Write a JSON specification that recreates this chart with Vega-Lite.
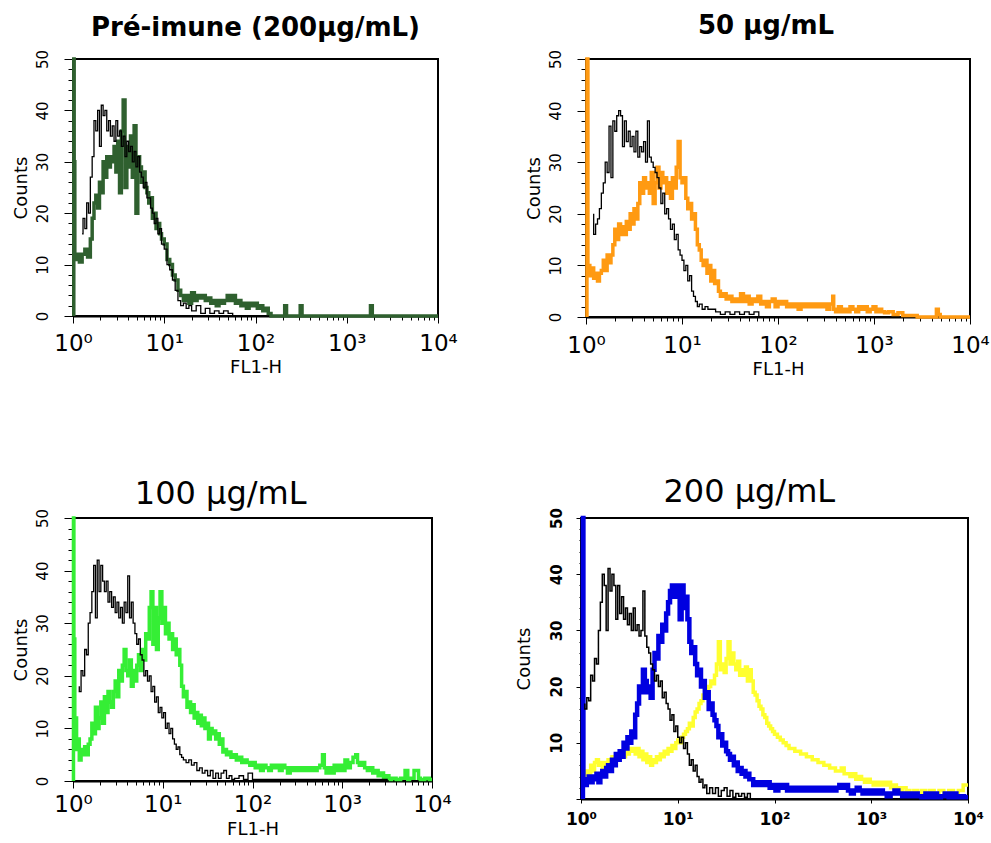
{
"$schema": "https://vega.github.io/schema/vega-lite/v6.json",
"background": "white",
"padding": {"left": 10, "top": 12, "right": 5, "bottom": 5},
"config": {
 "view": {"stroke": "black", "strokeWidth": 2},
 "axis": {"grid": false, "domainColor": "black", "domainWidth": 2, "tickColor": "black", "labelColor": "black", "titleColor": "black", "labelFont": "DejaVu Sans", "titleFont": "DejaVu Sans", "titleFontWeight": "normal"},
 "title": {"color": "black", "font": "DejaVu Sans", "anchor": "middle"}
},
"datasets": {
"p1c": [{"x":1.02,"y":0},{"x":1.03,"y":50},{"x":1.047,"y":30},{"x":1.096,"y":11},{"x":1.175,"y":12},{"x":1.259,"y":10.5},{"x":1.349,"y":12},{"x":1.445,"y":13},{"x":1.549,"y":11.5},{"x":1.622,"y":15},{"x":1.698,"y":19},{"x":1.778,"y":22},{"x":1.862,"y":23.5},{"x":1.95,"y":21},{"x":2.042,"y":26},{"x":2.138,"y":24},{"x":2.239,"y":30},{"x":2.344,"y":27},{"x":2.455,"y":31},{"x":2.57,"y":29},{"x":2.692,"y":31},{"x":2.818,"y":30},{"x":2.951,"y":33},{"x":3.09,"y":28},{"x":3.236,"y":34},{"x":3.388,"y":24},{"x":3.548,"y":36},{"x":3.715,"y":42},{"x":3.89,"y":25},{"x":4.074,"y":33},{"x":4.266,"y":29},{"x":4.467,"y":35},{"x":4.677,"y":27},{"x":4.898,"y":37},{"x":5.129,"y":20},{"x":5.37,"y":31},{"x":5.623,"y":29},{"x":5.888,"y":26},{"x":6.166,"y":28},{"x":6.457,"y":25},{"x":6.761,"y":24},{"x":7.079,"y":22},{"x":7.413,"y":23},{"x":7.762,"y":19},{"x":8.128,"y":20},{"x":8.511,"y":17},{"x":8.913,"y":18},{"x":9.333,"y":16},{"x":10,"y":15},{"x":10.72,"y":14},{"x":11.48,"y":11},{"x":12.3,"y":10},{"x":13.18,"y":8},{"x":14.13,"y":7},{"x":15.14,"y":5},{"x":16.22,"y":4},{"x":17.38,"y":3},{"x":18.62,"y":4},{"x":19.95,"y":2.5},{"x":21.38,"y":4.5},{"x":22.91,"y":3},{"x":24.55,"y":4},{"x":26.3,"y":3.5},{"x":28.18,"y":4},{"x":30.2,"y":3},{"x":32.36,"y":3.5},{"x":34.67,"y":2.5},{"x":37.15,"y":3},{"x":39.81,"y":2},{"x":42.66,"y":3},{"x":45.71,"y":2.5},{"x":48.98,"y":3},{"x":52.48,"y":4},{"x":56.23,"y":3},{"x":60.26,"y":4},{"x":64.57,"y":2.5},{"x":69.18,"y":3},{"x":74.13,"y":2},{"x":79.43,"y":2.5},{"x":85.11,"y":1.5},{"x":91.2,"y":2.5},{"x":97.72,"y":2},{"x":104.7,"y":2.5},{"x":112.2,"y":1.5},{"x":120.2,"y":2},{"x":128.8,"y":1},{"x":138,"y":1.5},{"x":147.9,"y":0.5},{"x":158.5,"y":0},{"x":208.9,"y":0},{"x":218.8,"y":2},{"x":229.1,"y":0},{"x":309,"y":0},{"x":323.6,"y":2},{"x":338.8,"y":0},{"x":1820,"y":0},{"x":1905,"y":2},{"x":1995,"y":0},{"x":10000,"y":0}],
"p1k": [{"x":1.259,"y":16},{"x":1.288,"y":16},{"x":1.349,"y":19},{"x":1.413,"y":17},{"x":1.479,"y":22},{"x":1.549,"y":20},{"x":1.622,"y":27},{"x":1.698,"y":31},{"x":1.778,"y":38},{"x":1.862,"y":36},{"x":1.95,"y":40},{"x":2.042,"y":33},{"x":2.138,"y":41},{"x":2.239,"y":39},{"x":2.344,"y":40},{"x":2.455,"y":36},{"x":2.57,"y":38},{"x":2.692,"y":35},{"x":2.818,"y":37},{"x":2.951,"y":34},{"x":3.09,"y":38},{"x":3.236,"y":35},{"x":3.388,"y":36},{"x":3.548,"y":33},{"x":3.715,"y":35},{"x":3.89,"y":31},{"x":4.074,"y":34},{"x":4.266,"y":32},{"x":4.467,"y":33},{"x":4.677,"y":30},{"x":4.898,"y":32},{"x":5.129,"y":29},{"x":5.37,"y":31},{"x":5.623,"y":28},{"x":5.888,"y":27},{"x":6.166,"y":25},{"x":6.457,"y":26},{"x":6.761,"y":23},{"x":7.079,"y":23},{"x":7.413,"y":21},{"x":7.762,"y":20},{"x":8.128,"y":18},{"x":8.511,"y":19},{"x":8.913,"y":16},{"x":9.333,"y":17},{"x":10,"y":14},{"x":10.72,"y":13},{"x":11.48,"y":10},{"x":12.3,"y":9},{"x":13.18,"y":7},{"x":14.13,"y":5},{"x":15.14,"y":3},{"x":16.22,"y":2},{"x":17.38,"y":2.5},{"x":18.62,"y":1.5},{"x":19.95,"y":2},{"x":22.39,"y":1},{"x":25.12,"y":2},{"x":28.18,"y":0.5},{"x":31.62,"y":1.5},{"x":35.48,"y":0.5},{"x":39.81,"y":1},{"x":44.67,"y":0.5},{"x":50.12,"y":1},{"x":56.23,"y":0.5},{"x":63.1,"y":0}],
"p2c": [{"x":1.023,"y":0},{"x":1.047,"y":50},{"x":1.096,"y":10},{"x":1.148,"y":8},{"x":1.202,"y":9.5},{"x":1.259,"y":7.5},{"x":1.318,"y":8.5},{"x":1.38,"y":7},{"x":1.445,"y":8.5},{"x":1.514,"y":9},{"x":1.585,"y":11},{"x":1.66,"y":9},{"x":1.738,"y":12},{"x":1.82,"y":10.5},{"x":1.905,"y":12},{"x":1.995,"y":14},{"x":2.089,"y":17},{"x":2.188,"y":15},{"x":2.291,"y":18},{"x":2.399,"y":16},{"x":2.512,"y":17.5},{"x":2.63,"y":16},{"x":2.754,"y":18.5},{"x":2.884,"y":17},{"x":3.02,"y":20},{"x":3.162,"y":18},{"x":3.311,"y":21},{"x":3.467,"y":19},{"x":3.631,"y":22},{"x":3.802,"y":26},{"x":3.981,"y":24},{"x":4.169,"y":27},{"x":4.365,"y":25},{"x":4.571,"y":26},{"x":4.786,"y":24},{"x":5.012,"y":28},{"x":5.248,"y":22},{"x":5.495,"y":26},{"x":5.754,"y":29},{"x":6.026,"y":25},{"x":6.31,"y":28},{"x":6.607,"y":26},{"x":6.918,"y":27},{"x":7.244,"y":24},{"x":7.586,"y":26},{"x":7.943,"y":23},{"x":8.318,"y":27},{"x":8.71,"y":25},{"x":9.12,"y":29},{"x":9.55,"y":34},{"x":10,"y":27},{"x":10.47,"y":26},{"x":10.96,"y":27},{"x":11.48,"y":23},{"x":12.02,"y":21},{"x":12.59,"y":22},{"x":13.18,"y":19},{"x":13.8,"y":20},{"x":14.45,"y":17},{"x":15.14,"y":14},{"x":15.85,"y":13},{"x":16.6,"y":11},{"x":17.38,"y":10},{"x":18.2,"y":11},{"x":19.05,"y":8.5},{"x":19.95,"y":10},{"x":20.89,"y":7},{"x":21.88,"y":9},{"x":22.91,"y":6.5},{"x":23.99,"y":7},{"x":25.12,"y":5},{"x":26.92,"y":4},{"x":28.84,"y":4.5},{"x":30.9,"y":3.5},{"x":33.11,"y":4},{"x":35.48,"y":3},{"x":38.02,"y":3.5},{"x":40.74,"y":3},{"x":43.65,"y":4.5},{"x":46.77,"y":3},{"x":50.12,"y":4},{"x":53.7,"y":2.5},{"x":57.54,"y":3.5},{"x":61.66,"y":3},{"x":66.07,"y":4},{"x":70.79,"y":2.5},{"x":75.86,"y":3},{"x":81.28,"y":2},{"x":87.1,"y":3},{"x":93.33,"y":3.5},{"x":100,"y":2},{"x":107.2,"y":3},{"x":114.8,"y":2.5},{"x":123,"y":3},{"x":131.8,"y":2},{"x":141.3,"y":2.5},{"x":151.4,"y":2},{"x":162.2,"y":2.5},{"x":173.8,"y":1.5},{"x":186.2,"y":2.5},{"x":199.5,"y":2},{"x":213.8,"y":2.5},{"x":229.1,"y":2},{"x":245.5,"y":2.5},{"x":263,"y":2},{"x":281.8,"y":2.5},{"x":302,"y":2},{"x":323.6,"y":2.5},{"x":346.7,"y":1.5},{"x":371.5,"y":2.5},{"x":380.2,"y":4},{"x":398.1,"y":1.5},{"x":426.6,"y":1},{"x":457.1,"y":2},{"x":489.8,"y":1},{"x":524.8,"y":1.5},{"x":562.3,"y":1},{"x":602.6,"y":2},{"x":645.7,"y":1.5},{"x":691.8,"y":1},{"x":741.3,"y":2},{"x":794.3,"y":1.5},{"x":851.1,"y":2},{"x":912,"y":1},{"x":977.2,"y":1.5},{"x":1047,"y":2},{"x":1122,"y":1},{"x":1202,"y":1.5},{"x":1288,"y":1},{"x":1413,"y":0.8},{"x":1585,"y":1},{"x":1778,"y":0.5},{"x":1995,"y":0.8},{"x":2239,"y":0.3},{"x":2512,"y":0.3},{"x":2818,"y":0.3},{"x":3162,"y":0},{"x":4467,"y":0},{"x":4677,"y":1.5},{"x":4898,"y":0.5},{"x":5248,"y":0},{"x":10000,"y":0}],
"p2k": [{"x":1.202,"y":20},{"x":1.259,"y":16},{"x":1.318,"y":18},{"x":1.38,"y":19},{"x":1.445,"y":21},{"x":1.514,"y":24},{"x":1.585,"y":26},{"x":1.66,"y":30},{"x":1.738,"y":28},{"x":1.82,"y":37},{"x":1.905,"y":27},{"x":1.995,"y":38},{"x":2.089,"y":36},{"x":2.188,"y":39},{"x":2.291,"y":40},{"x":2.399,"y":39},{"x":2.512,"y":33},{"x":2.63,"y":38},{"x":2.754,"y":34},{"x":2.884,"y":36},{"x":3.02,"y":33},{"x":3.162,"y":35},{"x":3.311,"y":32},{"x":3.467,"y":36},{"x":3.631,"y":31},{"x":3.802,"y":33},{"x":3.981,"y":32},{"x":4.169,"y":34},{"x":4.365,"y":30},{"x":4.571,"y":38},{"x":4.786,"y":31},{"x":5.012,"y":30},{"x":5.248,"y":29},{"x":5.495,"y":28},{"x":5.754,"y":27},{"x":6.026,"y":25},{"x":6.31,"y":22},{"x":6.607,"y":24},{"x":6.918,"y":20},{"x":7.244,"y":21},{"x":7.586,"y":19},{"x":7.943,"y":17},{"x":8.318,"y":18},{"x":8.71,"y":15},{"x":9.12,"y":16},{"x":9.55,"y":13},{"x":10,"y":12},{"x":10.47,"y":11},{"x":10.96,"y":9},{"x":11.48,"y":10},{"x":12.02,"y":7},{"x":12.59,"y":8},{"x":13.18,"y":5},{"x":13.8,"y":4},{"x":14.45,"y":3},{"x":15.14,"y":2},{"x":16.22,"y":2.5},{"x":17.38,"y":1.5},{"x":18.62,"y":2},{"x":19.95,"y":1.5},{"x":22.39,"y":1.5},{"x":25.12,"y":1},{"x":28.18,"y":0.5},{"x":31.62,"y":1},{"x":35.48,"y":0.5},{"x":39.81,"y":1},{"x":44.67,"y":0.5},{"x":50.12,"y":1},{"x":56.23,"y":0.5},{"x":63.1,"y":1},{"x":70.79,"y":0}],
"p3c": [{"x":1.012,"y":0},{"x":1.023,"y":50},{"x":1.047,"y":27},{"x":1.072,"y":10},{"x":1.096,"y":12},{"x":1.122,"y":6},{"x":1.175,"y":8},{"x":1.23,"y":4},{"x":1.288,"y":6},{"x":1.349,"y":5},{"x":1.413,"y":6.5},{"x":1.479,"y":5},{"x":1.549,"y":7},{"x":1.622,"y":8},{"x":1.698,"y":11},{"x":1.778,"y":9},{"x":1.862,"y":14},{"x":1.95,"y":10},{"x":2.042,"y":12},{"x":2.138,"y":15},{"x":2.239,"y":11},{"x":2.344,"y":16},{"x":2.455,"y":13},{"x":2.57,"y":17},{"x":2.692,"y":15},{"x":2.818,"y":14},{"x":2.951,"y":17},{"x":3.09,"y":19},{"x":3.236,"y":16},{"x":3.388,"y":21},{"x":3.548,"y":19},{"x":3.715,"y":22},{"x":3.89,"y":25},{"x":4.074,"y":21},{"x":4.266,"y":20},{"x":4.467,"y":23},{"x":4.677,"y":18},{"x":4.898,"y":21},{"x":5.129,"y":19},{"x":5.37,"y":22},{"x":5.623,"y":24},{"x":5.888,"y":21},{"x":6.166,"y":25},{"x":6.457,"y":23},{"x":6.761,"y":28},{"x":7.079,"y":27},{"x":7.413,"y":33},{"x":7.762,"y":36},{"x":8.128,"y":26},{"x":8.511,"y":33},{"x":8.913,"y":25},{"x":9.333,"y":31},{"x":9.772,"y":36},{"x":10.23,"y":30},{"x":10.72,"y":33},{"x":11.22,"y":28},{"x":11.75,"y":30},{"x":12.3,"y":27},{"x":12.88,"y":28},{"x":13.49,"y":25},{"x":14.13,"y":27},{"x":14.79,"y":24},{"x":15.49,"y":25},{"x":16.22,"y":22},{"x":16.98,"y":18},{"x":17.78,"y":16},{"x":18.62,"y":17},{"x":19.5,"y":14},{"x":20.42,"y":15},{"x":21.38,"y":13},{"x":22.39,"y":14.5},{"x":23.44,"y":12},{"x":24.55,"y":13},{"x":25.7,"y":11},{"x":26.92,"y":12.5},{"x":28.18,"y":10.5},{"x":29.51,"y":12},{"x":30.9,"y":10},{"x":32.36,"y":11},{"x":33.88,"y":8},{"x":35.48,"y":10},{"x":37.15,"y":9},{"x":38.9,"y":9.5},{"x":40.74,"y":8},{"x":42.66,"y":9},{"x":44.67,"y":7},{"x":46.77,"y":8},{"x":48.98,"y":5.5},{"x":51.29,"y":6},{"x":53.7,"y":5},{"x":57.54,"y":5.5},{"x":61.66,"y":4.5},{"x":66.07,"y":5},{"x":70.79,"y":4},{"x":75.86,"y":4.5},{"x":81.28,"y":3.5},{"x":87.1,"y":4},{"x":93.33,"y":3.5},{"x":100,"y":3},{"x":107.2,"y":3.5},{"x":114.8,"y":2.5},{"x":123,"y":3},{"x":131.8,"y":2},{"x":141.3,"y":3},{"x":151.4,"y":2.5},{"x":162.2,"y":2},{"x":173.8,"y":3},{"x":186.2,"y":2.5},{"x":199.5,"y":3},{"x":213.8,"y":2},{"x":229.1,"y":3},{"x":245.5,"y":2.5},{"x":263,"y":1.5},{"x":281.8,"y":2.5},{"x":302,"y":2},{"x":323.6,"y":2.5},{"x":346.7,"y":2},{"x":371.5,"y":2.5},{"x":398.1,"y":2},{"x":426.6,"y":2.5},{"x":457.1,"y":2},{"x":489.8,"y":2.5},{"x":524.8,"y":2},{"x":562.3,"y":2.5},{"x":602.6,"y":3},{"x":631,"y":5},{"x":660.7,"y":2.5},{"x":707.9,"y":1.5},{"x":758.6,"y":2.5},{"x":812.8,"y":1.5},{"x":871,"y":3},{"x":933.3,"y":2},{"x":1000,"y":3},{"x":1072,"y":2},{"x":1148,"y":4},{"x":1230,"y":2.5},{"x":1318,"y":3.5},{"x":1413,"y":4.5},{"x":1479,"y":5},{"x":1549,"y":3.5},{"x":1660,"y":3},{"x":1778,"y":3.5},{"x":1905,"y":2.5},{"x":2042,"y":2},{"x":2188,"y":2.5},{"x":2344,"y":1.5},{"x":2512,"y":2},{"x":2692,"y":1},{"x":2884,"y":1.5},{"x":3090,"y":0.5},{"x":3311,"y":1},{"x":3548,"y":0.3},{"x":3981,"y":0.5},{"x":4467,"y":0.3},{"x":5012,"y":0.5},{"x":5370,"y":2},{"x":5623,"y":0.3},{"x":6310,"y":0.5},{"x":7079,"y":2},{"x":7413,"y":0.5},{"x":8318,"y":0.3},{"x":9333,"y":0.5},{"x":10000,"y":0.3}],
"p3k": [{"x":1.175,"y":18},{"x":1.23,"y":17},{"x":1.288,"y":21},{"x":1.349,"y":20},{"x":1.413,"y":25},{"x":1.479,"y":24},{"x":1.549,"y":30},{"x":1.622,"y":32},{"x":1.698,"y":36},{"x":1.778,"y":41},{"x":1.862,"y":31},{"x":1.95,"y":42},{"x":2.042,"y":36},{"x":2.138,"y":41},{"x":2.239,"y":38},{"x":2.344,"y":36},{"x":2.455,"y":38},{"x":2.57,"y":34},{"x":2.692,"y":36},{"x":2.818,"y":33},{"x":2.951,"y":35},{"x":3.09,"y":32},{"x":3.236,"y":34},{"x":3.388,"y":31},{"x":3.548,"y":33},{"x":3.715,"y":30},{"x":3.89,"y":34},{"x":4.074,"y":32},{"x":4.266,"y":39},{"x":4.467,"y":31},{"x":4.677,"y":34},{"x":4.898,"y":30},{"x":5.129,"y":28},{"x":5.37,"y":26},{"x":5.623,"y":27},{"x":5.888,"y":24},{"x":6.166,"y":23},{"x":6.457,"y":20},{"x":6.761,"y":21},{"x":7.079,"y":19},{"x":7.413,"y":20},{"x":7.762,"y":17},{"x":8.128,"y":18},{"x":8.511,"y":15},{"x":8.913,"y":16},{"x":9.333,"y":13},{"x":9.772,"y":14},{"x":10.23,"y":12},{"x":10.72,"y":13},{"x":11.22,"y":10},{"x":11.75,"y":11},{"x":12.3,"y":9},{"x":12.88,"y":10},{"x":13.49,"y":8},{"x":14.13,"y":7},{"x":14.79,"y":6},{"x":15.49,"y":6.5},{"x":16.22,"y":5},{"x":16.98,"y":4.5},{"x":18.2,"y":4},{"x":19.5,"y":3.5},{"x":20.89,"y":4},{"x":22.39,"y":3},{"x":23.99,"y":3.5},{"x":25.7,"y":2},{"x":27.54,"y":2.5},{"x":29.51,"y":1.5},{"x":31.62,"y":2},{"x":33.88,"y":1},{"x":36.31,"y":2},{"x":38.9,"y":0.5},{"x":41.69,"y":1.5},{"x":44.67,"y":0.5},{"x":47.86,"y":1.5},{"x":51.29,"y":2},{"x":54.95,"y":0.5},{"x":58.88,"y":1},{"x":63.1,"y":0.3},{"x":70.79,"y":0.5},{"x":79.43,"y":1},{"x":89.13,"y":0.3},{"x":100,"y":1.5},{"x":104.7,"y":0.3},{"x":3162,"y":0.3},{"x":3311,"y":0}],
"p4b": [{"x":1.047,"y":0},{"x":1.059,"y":50},{"x":1.096,"y":3},{"x":1.148,"y":2.5},{"x":1.202,"y":3.5},{"x":1.259,"y":4},{"x":1.318,"y":3},{"x":1.38,"y":4},{"x":1.445,"y":3.5},{"x":1.514,"y":4.5},{"x":1.585,"y":3},{"x":1.66,"y":4.5},{"x":1.738,"y":5},{"x":1.82,"y":4},{"x":1.905,"y":5.5},{"x":1.995,"y":6},{"x":2.089,"y":5},{"x":2.188,"y":7},{"x":2.291,"y":6},{"x":2.399,"y":8},{"x":2.512,"y":7},{"x":2.63,"y":8.5},{"x":2.754,"y":7.5},{"x":2.884,"y":10},{"x":3.02,"y":9},{"x":3.162,"y":11},{"x":3.311,"y":10},{"x":3.467,"y":12},{"x":3.631,"y":11},{"x":3.802,"y":15},{"x":3.981,"y":17},{"x":4.169,"y":20},{"x":4.365,"y":19},{"x":4.571,"y":23},{"x":4.786,"y":21},{"x":5.012,"y":19},{"x":5.248,"y":20},{"x":5.495,"y":18},{"x":5.754,"y":23},{"x":6.026,"y":26},{"x":6.31,"y":25},{"x":6.607,"y":29},{"x":6.918,"y":28},{"x":7.244,"y":31},{"x":7.586,"y":30},{"x":7.943,"y":33},{"x":8.318,"y":35},{"x":8.71,"y":37},{"x":9.12,"y":38},{"x":9.55,"y":36},{"x":10,"y":38},{"x":10.47,"y":37},{"x":10.96,"y":32},{"x":11.48,"y":38},{"x":12.02,"y":34},{"x":12.59,"y":36},{"x":13.18,"y":32},{"x":13.8,"y":28},{"x":14.45,"y":26},{"x":15.14,"y":27},{"x":15.85,"y":24},{"x":16.6,"y":22},{"x":17.38,"y":23},{"x":18.2,"y":20},{"x":19.05,"y":21},{"x":19.95,"y":18},{"x":20.89,"y":19},{"x":21.88,"y":16},{"x":22.91,"y":17},{"x":23.99,"y":15},{"x":25.12,"y":14},{"x":26.3,"y":13},{"x":27.54,"y":11},{"x":28.84,"y":11.5},{"x":30.2,"y":9.5},{"x":31.62,"y":10},{"x":33.11,"y":8.5},{"x":34.67,"y":8},{"x":36.31,"y":7},{"x":38.02,"y":7.5},{"x":39.81,"y":6},{"x":41.69,"y":6.5},{"x":43.65,"y":5},{"x":45.71,"y":5.5},{"x":47.86,"y":4.5},{"x":50.12,"y":5},{"x":52.48,"y":4},{"x":54.95,"y":4.5},{"x":57.54,"y":3.5},{"x":60.26,"y":3.5},{"x":63.1,"y":2.5},{"x":67.61,"y":3},{"x":72.44,"y":2.5},{"x":77.62,"y":3},{"x":83.18,"y":2.5},{"x":89.13,"y":3},{"x":95.5,"y":2},{"x":102.3,"y":2.5},{"x":109.6,"y":1.5},{"x":117.5,"y":2.5},{"x":125.9,"y":2},{"x":134.9,"y":2.5},{"x":144.5,"y":1.5},{"x":154.9,"y":2},{"x":166,"y":1.5},{"x":177.8,"y":2},{"x":190.5,"y":1.5},{"x":204.2,"y":2},{"x":218.8,"y":1.5},{"x":234.4,"y":2},{"x":251.2,"y":1.5},{"x":269.2,"y":2},{"x":288.4,"y":1.5},{"x":309,"y":2},{"x":331.1,"y":1.5},{"x":354.8,"y":2},{"x":380.2,"y":1.5},{"x":407.4,"y":2},{"x":436.5,"y":1.5},{"x":467.7,"y":2},{"x":501.2,"y":2.5},{"x":537,"y":2},{"x":575.4,"y":2.5},{"x":616.6,"y":1.5},{"x":660.7,"y":1},{"x":707.9,"y":1.5},{"x":758.6,"y":2},{"x":812.8,"y":1.5},{"x":871,"y":1},{"x":933.3,"y":1.5},{"x":1000,"y":1},{"x":1096,"y":1.5},{"x":1202,"y":1},{"x":1318,"y":1.5},{"x":1445,"y":1},{"x":1585,"y":0.5},{"x":1738,"y":1},{"x":1905,"y":1.5},{"x":2089,"y":1},{"x":2291,"y":0.5},{"x":2512,"y":1},{"x":2754,"y":0.5},{"x":3020,"y":1},{"x":3311,"y":0.5},{"x":3631,"y":0.3},{"x":3981,"y":1},{"x":4365,"y":0.3},{"x":4786,"y":1},{"x":5248,"y":0.3},{"x":5754,"y":0.5},{"x":6310,"y":1},{"x":6918,"y":0.3},{"x":7586,"y":1},{"x":8318,"y":0.3},{"x":9120,"y":0.5},{"x":10000,"y":0.3}],
"p4y": [{"x":1.096,"y":5},{"x":1.148,"y":4},{"x":1.202,"y":5},{"x":1.259,"y":4.5},{"x":1.318,"y":6},{"x":1.38,"y":5},{"x":1.445,"y":6.5},{"x":1.514,"y":7},{"x":1.585,"y":6},{"x":1.66,"y":6.5},{"x":1.738,"y":5.5},{"x":1.82,"y":6.5},{"x":1.905,"y":6},{"x":1.995,"y":7},{"x":2.089,"y":6.5},{"x":2.188,"y":7.5},{"x":2.291,"y":7},{"x":2.399,"y":8},{"x":2.512,"y":7.5},{"x":2.63,"y":8},{"x":2.754,"y":8.5},{"x":2.884,"y":7.5},{"x":3.02,"y":9},{"x":3.162,"y":8},{"x":3.311,"y":9},{"x":3.467,"y":8.5},{"x":3.631,"y":9},{"x":3.802,"y":8},{"x":3.981,"y":9},{"x":4.169,"y":7.5},{"x":4.365,"y":8.5},{"x":4.571,"y":7},{"x":4.786,"y":8},{"x":5.012,"y":6.5},{"x":5.248,"y":7.5},{"x":5.495,"y":6},{"x":5.754,"y":7},{"x":6.026,"y":6.5},{"x":6.31,"y":7.5},{"x":6.607,"y":7},{"x":6.918,"y":8},{"x":7.244,"y":7.5},{"x":7.586,"y":8.5},{"x":7.943,"y":8},{"x":8.318,"y":9},{"x":8.71,"y":8.5},{"x":9.12,"y":9.5},{"x":9.55,"y":9},{"x":10,"y":10},{"x":10.47,"y":10.5},{"x":10.96,"y":10},{"x":11.48,"y":11},{"x":12.02,"y":11.5},{"x":12.59,"y":12},{"x":13.18,"y":12.5},{"x":13.8,"y":13.5},{"x":14.45,"y":13},{"x":15.14,"y":14.5},{"x":15.85,"y":15.5},{"x":16.6,"y":16},{"x":17.38,"y":17},{"x":18.2,"y":17.5},{"x":19.05,"y":18.5},{"x":19.95,"y":18},{"x":20.89,"y":19.5},{"x":21.88,"y":20},{"x":22.91,"y":21},{"x":23.99,"y":20.5},{"x":25.12,"y":22},{"x":26.3,"y":24},{"x":27.54,"y":28},{"x":28.84,"y":23},{"x":30.2,"y":24},{"x":31.62,"y":22.5},{"x":33.11,"y":25},{"x":34.67,"y":28},{"x":36.31,"y":24},{"x":38.02,"y":26},{"x":39.81,"y":24},{"x":41.69,"y":23},{"x":43.65,"y":24.5},{"x":45.71,"y":22},{"x":47.86,"y":23},{"x":50.12,"y":22},{"x":52.48,"y":23.5},{"x":54.95,"y":21},{"x":57.54,"y":23},{"x":60.26,"y":21},{"x":63.1,"y":19},{"x":66.07,"y":18.5},{"x":69.18,"y":17.5},{"x":72.44,"y":16.5},{"x":75.86,"y":16},{"x":79.43,"y":15},{"x":83.18,"y":14.5},{"x":87.1,"y":13.5},{"x":91.2,"y":13},{"x":95.5,"y":12.5},{"x":100,"y":12},{"x":107.2,"y":11.5},{"x":114.8,"y":11},{"x":123,"y":10.5},{"x":131.8,"y":10},{"x":141.3,"y":9.5},{"x":151.4,"y":9},{"x":162.2,"y":9},{"x":173.8,"y":8.5},{"x":186.2,"y":8.5},{"x":199.5,"y":8},{"x":213.8,"y":8},{"x":229.1,"y":7.5},{"x":245.5,"y":7.5},{"x":263,"y":7},{"x":281.8,"y":7},{"x":302,"y":6.5},{"x":323.6,"y":6.5},{"x":346.7,"y":6},{"x":371.5,"y":6},{"x":398.1,"y":5.5},{"x":426.6,"y":5.5},{"x":457.1,"y":5},{"x":489.8,"y":5},{"x":524.8,"y":5.5},{"x":562.3,"y":4.5},{"x":602.6,"y":4.5},{"x":645.7,"y":4},{"x":691.8,"y":4.5},{"x":741.3,"y":3.5},{"x":794.3,"y":4},{"x":851.1,"y":3.5},{"x":912,"y":3},{"x":977.2,"y":3.5},{"x":1047,"y":3},{"x":1122,"y":2.5},{"x":1202,"y":3},{"x":1288,"y":2.5},{"x":1380,"y":3},{"x":1479,"y":2.5},{"x":1585,"y":3},{"x":1698,"y":2},{"x":1820,"y":2.5},{"x":1950,"y":2},{"x":2089,"y":1.5},{"x":2291,"y":2},{"x":2512,"y":1.5},{"x":2754,"y":1},{"x":3020,"y":1.5},{"x":3311,"y":1},{"x":3631,"y":1.5},{"x":3981,"y":1},{"x":4467,"y":1.5},{"x":5012,"y":1},{"x":5623,"y":1.5},{"x":6310,"y":1},{"x":7079,"y":1.5},{"x":7943,"y":1},{"x":8913,"y":1.5},{"x":10000,"y":2.5}],
"p4k": [{"x":1.096,"y":17},{"x":1.148,"y":16},{"x":1.202,"y":18},{"x":1.259,"y":17.5},{"x":1.318,"y":22},{"x":1.38,"y":21},{"x":1.445,"y":25},{"x":1.514,"y":24},{"x":1.585,"y":30},{"x":1.66,"y":35},{"x":1.738,"y":40},{"x":1.82,"y":38},{"x":1.905,"y":30},{"x":1.995,"y":41},{"x":2.089,"y":37},{"x":2.188,"y":40},{"x":2.291,"y":38},{"x":2.399,"y":32},{"x":2.512,"y":38},{"x":2.63,"y":33},{"x":2.754,"y":36},{"x":2.884,"y":32},{"x":3.02,"y":34},{"x":3.162,"y":31},{"x":3.311,"y":33},{"x":3.467,"y":30},{"x":3.631,"y":34},{"x":3.802,"y":30},{"x":3.981,"y":31},{"x":4.169,"y":29},{"x":4.365,"y":30},{"x":4.571,"y":37},{"x":4.786,"y":29},{"x":5.012,"y":27},{"x":5.248,"y":26},{"x":5.495,"y":24},{"x":5.754,"y":23},{"x":6.026,"y":21},{"x":6.31,"y":22},{"x":6.607,"y":20},{"x":6.918,"y":21},{"x":7.244,"y":18},{"x":7.586,"y":19},{"x":7.943,"y":17},{"x":8.318,"y":16},{"x":8.71,"y":14},{"x":9.12,"y":15},{"x":9.55,"y":12},{"x":10,"y":13},{"x":10.47,"y":11},{"x":10.96,"y":10},{"x":11.48,"y":11},{"x":12.02,"y":9},{"x":12.59,"y":10},{"x":13.18,"y":8},{"x":13.8,"y":6},{"x":14.45,"y":7},{"x":15.14,"y":5},{"x":15.85,"y":6},{"x":16.6,"y":4},{"x":17.38,"y":3},{"x":18.2,"y":3.5},{"x":19.05,"y":2},{"x":19.95,"y":2.5},{"x":21.38,"y":1},{"x":22.91,"y":2},{"x":24.55,"y":1},{"x":26.3,"y":2},{"x":28.18,"y":0.5},{"x":30.2,"y":1.5},{"x":32.36,"y":2},{"x":34.67,"y":0.5},{"x":37.15,"y":1.5},{"x":39.81,"y":0.3},{"x":42.66,"y":1},{"x":45.71,"y":0.5},{"x":48.98,"y":1},{"x":52.48,"y":0.3},{"x":56.23,"y":1},{"x":60.26,"y":0}]
},
"spacing": 95,
"vconcat": [
 {"spacing": 64, "hconcat": [
  {"width": 365, "height": 257,
   "title": {"text": "Pré-imune (200µg/mL)", "fontSize": 26, "fontWeight": "bold", "offset": 8},
   "encoding": {
    "x": {"field": "x", "type": "quantitative", "scale": {"type": "log", "domain": [1, 10000]},
     "axis": {"title": "FL1-H", "values": [1,2,3,4,5,6,7,8,9,10,20,30,40,50,60,70,80,90,100,200,300,400,500,600,700,800,900,1000,2000,3000,4000,5000,6000,7000,8000,9000,10000],
      "labelExpr": "datum.value==1?'10⁰':datum.value==10?'10¹':datum.value==100?'10²':datum.value==1000?'10³':datum.value==10000?'10⁴':''",
      "tickSize": {"condition": {"test": "indexof([1,10,100,1000,10000], datum.value) >= 0", "value": 7}, "value": 4},
      "labelFlush": false, "labelOverlap": false, "labelFontSize": 23, "labelPadding": 9, "titleFontSize": 18, "titlePadding": 3}},
    "y": {"field": "y", "type": "quantitative", "scale": {"domain": [0, 50]},
     "axis": {"title": "Counts", "values": [0,2,4,6,8,10,12,14,16,18,20,22,24,26,28,30,32,34,36,38,40,42,44,46,48,50],
      "labelExpr": "datum.value % 10 == 0 ? datum.label : ''",
      "tickSize": {"condition": {"test": "datum.value % 10 == 0", "value": 9}, "value": 5},
      "labelAngle": 270, "labelAlign": "center", "labelBaseline": "bottom", "labelOverlap": false, "labelFlush": false,
      "labelFontSize": 15, "labelPadding": 14, "titleFontSize": 18, "titlePadding": 5}}
   },
   "layer": [
    {"data": {"name": "p1c"}, "mark": {"type": "line", "interpolate": "step-before", "color": "#2f602f", "strokeWidth": 3.5}},
    {"data": {"name": "p1k"}, "mark": {"type": "line", "interpolate": "step-before", "color": "black", "strokeWidth": 1.3}}
   ]},
  {"width": 384, "height": 258,
   "title": {"text": "50 µg/mL", "fontSize": 26, "fontWeight": "bold", "offset": 10, "dx": -12},
   "encoding": {
    "x": {"field": "x", "type": "quantitative", "scale": {"type": "log", "domain": [1, 10000]},
     "axis": {"title": "FL1-H", "values": [1,2,3,4,5,6,7,8,9,10,20,30,40,50,60,70,80,90,100,200,300,400,500,600,700,800,900,1000,2000,3000,4000,5000,6000,7000,8000,9000,10000],
      "labelExpr": "datum.value==1?'10⁰':datum.value==10?'10¹':datum.value==100?'10²':datum.value==1000?'10³':datum.value==10000?'10⁴':''",
      "tickSize": {"condition": {"test": "indexof([1,10,100,1000,10000], datum.value) >= 0", "value": 7}, "value": 4},
      "labelFlush": false, "labelOverlap": false, "labelFontSize": 23, "labelPadding": 10, "titleFontSize": 18, "titlePadding": 3}},
    "y": {"field": "y", "type": "quantitative", "scale": {"domain": [0, 50]},
     "axis": {"title": "Counts", "values": [0,2,4,6,8,10,12,14,16,18,20,22,24,26,28,30,32,34,36,38,40,42,44,46,48,50],
      "labelExpr": "datum.value % 10 == 0 ? datum.label : ''",
      "tickSize": {"condition": {"test": "datum.value % 10 == 0", "value": 9}, "value": 5},
      "labelAngle": 270, "labelAlign": "center", "labelBaseline": "bottom", "labelOverlap": false, "labelFlush": false,
      "labelFontSize": 15, "labelPadding": 14, "titleFontSize": 18, "titlePadding": 5}}
   },
   "layer": [
    {"data": {"name": "p2c"}, "mark": {"type": "line", "interpolate": "step-before", "color": "#ff9a12", "strokeWidth": 3.5}},
    {"data": {"name": "p2k"}, "mark": {"type": "line", "interpolate": "step-before", "color": "black", "strokeWidth": 1.3}}
   ]}
 ]},
 {"spacing": 61, "hconcat": [
  {"width": 359, "height": 263,
   "title": {"text": "100 µg/mL", "fontSize": 32, "fontWeight": "normal", "frame": "bounds", "offset": -3, "dx": -11},
   "encoding": {
    "x": {"field": "x", "type": "quantitative", "scale": {"type": "log", "domain": [1, 10000]},
     "axis": {"title": "FL1-H", "values": [1,2,3,4,5,6,7,8,9,10,20,30,40,50,60,70,80,90,100,200,300,400,500,600,700,800,900,1000,2000,3000,4000,5000,6000,7000,8000,9000,10000],
      "labelExpr": "datum.value==1?'10⁰':datum.value==10?'10¹':datum.value==100?'10²':datum.value==1000?'10³':datum.value==10000?'10⁴':''",
      "tickSize": {"condition": {"test": "indexof([1,10,100,1000,10000], datum.value) >= 0", "value": 7}, "value": 4},
      "labelFlush": false, "labelOverlap": false, "labelFontSize": 23, "labelPadding": 5, "titleFontSize": 18, "titlePadding": 4}},
    "y": {"field": "y", "type": "quantitative", "scale": {"domain": [0, 50]},
     "axis": {"title": "Counts", "values": [0,2,4,6,8,10,12,14,16,18,20,22,24,26,28,30,32,34,36,38,40,42,44,46,48,50],
      "labelExpr": "datum.value % 10 == 0 ? datum.label : ''",
      "tickSize": {"condition": {"test": "datum.value % 10 == 0", "value": 9}, "value": 5},
      "labelAngle": 270, "labelAlign": "center", "labelBaseline": "bottom", "labelOverlap": false, "labelFlush": false,
      "labelFontSize": 15, "labelPadding": 14, "titleFontSize": 18, "titlePadding": 5}}
   },
   "layer": [
    {"data": {"name": "p3c"}, "mark": {"type": "line", "interpolate": "step-before", "color": "#35ee35", "strokeWidth": 3.5}},
    {"data": {"name": "p3k"}, "mark": {"type": "line", "interpolate": "step-before", "color": "black", "strokeWidth": 1.3}}
   ]},
  {"width": 387, "height": 281,
   "title": {"text": "200 µg/mL", "fontSize": 32, "fontWeight": "normal", "frame": "bounds", "offset": -1},
   "encoding": {
    "x": {"field": "x", "type": "quantitative", "scale": {"type": "log", "domain": [1, 10000]},
     "axis": {"title": null, "values": [1,2,3,4,5,6,7,8,9,10,20,30,40,50,60,70,80,90,100,200,300,400,500,600,700,800,900,1000,2000,3000,4000,5000,6000,7000,8000,9000,10000],
      "labelExpr": "datum.value==1?'10⁰':datum.value==10?'10¹':datum.value==100?'10²':datum.value==1000?'10³':datum.value==10000?'10⁴':''",
      "tickSize": {"condition": {"test": "indexof([1,10,100,1000,10000], datum.value) >= 0", "value": 4}, "value": 0},
      "labelFlush": false, "labelOverlap": false, "labelFontSize": 17, "labelFontWeight": "bold", "labelPadding": 8}},
    "y": {"field": "y", "type": "quantitative", "scale": {"domain": [0, 50]},
     "axis": {"title": "Counts", "values": [0,2,4,6,8,10,12,14,16,18,20,22,24,26,28,30,32,34,36,38,40,42,44,46,48,50],
      "labelExpr": "datum.value % 10 == 0 && datum.value > 0 ? datum.label : ''",
      "tickSize": {"condition": {"test": "datum.value % 10 == 0", "value": 5}, "value": 2},
      "labelAngle": 270, "labelAlign": "center", "labelBaseline": "bottom", "labelOverlap": false, "labelFlush": false,
      "labelFontSize": 15, "labelFontWeight": "bold", "labelPadding": 12, "titleFontSize": 18, "titlePadding": 16}}
   },
   "layer": [
    {"data": {"name": "p4y"}, "mark": {"type": "line", "interpolate": "step-before", "color": "#ffff30", "strokeWidth": 3.5}},
    {"data": {"name": "p4b"}, "mark": {"type": "line", "interpolate": "step-before", "color": "#0000e0", "strokeWidth": 4.5}},
    {"data": {"name": "p4k"}, "mark": {"type": "line", "interpolate": "step-before", "color": "black", "strokeWidth": 1.5}}
   ]}
 ]}
]
}
